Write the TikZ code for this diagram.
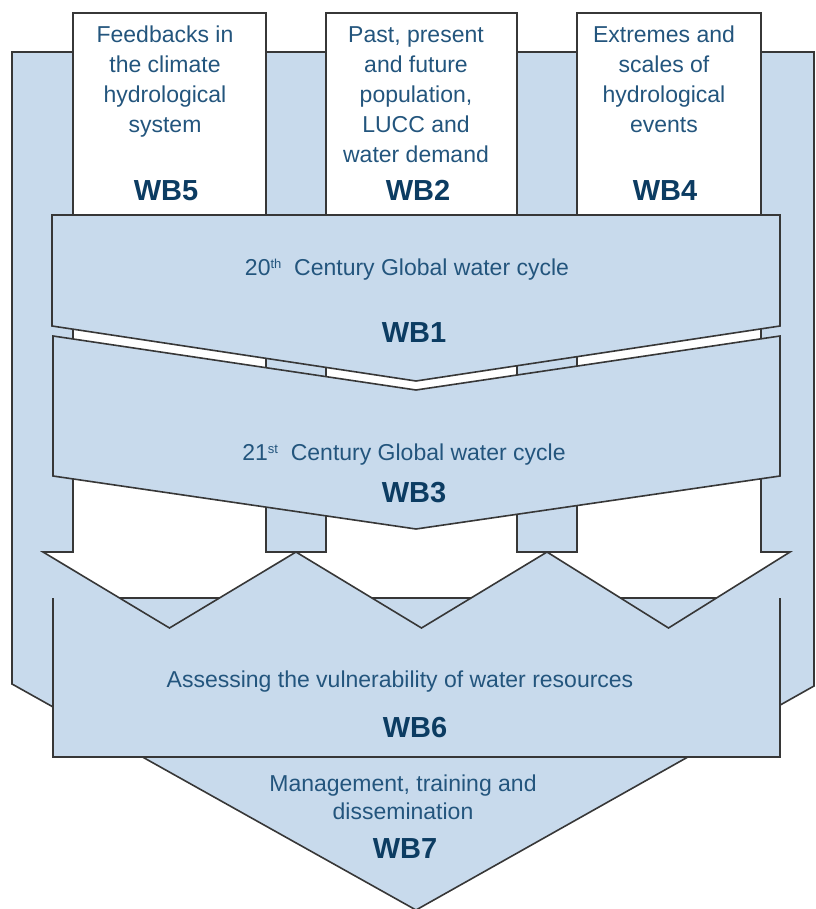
\documentclass[tikz,border=0pt]{standalone}
\usepackage{fontspec}
\setmainfont{Liberation Sans}
\definecolor{boxblue}{RGB}{200,218,236}
\definecolor{txtblue}{RGB}{35,85,125}
\definecolor{boldblue}{RGB}{12,60,98}
\definecolor{edgegray}{RGB}{55,55,55}
\begin{document}
\begin{tikzpicture}[x=1pt,y=-1pt,
  bluebox/.style={fill=boxblue, draw=edgegray, line width=1.6pt, line join=miter},
  whitearrow/.style={fill=white, draw=edgegray, line width=1.6pt, line join=miter},
  edgeline/.style={draw=edgegray, line width=1.6pt},
  bodytext/.style={text=txtblue, font=\fontsize{23}{30}\selectfont, align=center, inner sep=0pt},
  wblabel/.style={text=boldblue, font=\fontsize{29}{30}\selectfont\bfseries, inner sep=0pt, anchor=base}]
\useasboundingbox (0,0) rectangle (815,909);

% background (WB7)
\path[bluebox] (12,52) -- (814,52) -- (814,686) -- (416,910) -- (12,684) -- cycle;

% white arrows
\path[whitearrow] (73,552) -- (73,13) -- (266,13) -- (266,552) -- (296,552) -- (169.5,628) -- (43,552) -- cycle;
\path[whitearrow] (326,552) -- (326,13) -- (517,13) -- (517,552) -- (547,552) -- (421.5,628) -- (296,552) -- cycle;
\path[whitearrow] (577,552) -- (577,13) -- (761,13) -- (761,552) -- (790,552) -- (668.5,628) -- (547,552) -- cycle;

% WB1 and WB3
\path[bluebox] (52,215) -- (780,215) -- (780,326) -- (416,381) -- (52,326) -- cycle;
\path[bluebox] (53,336) -- (416,390) -- (780,336) -- (780,476) -- (416,529) -- (53,476) -- cycle;

% WB6
\fill[boxblue] (53,598) rectangle (780,757);
\draw[edgeline] (53,598) -- (53,757) -- (780,757) -- (780,598);
\begin{scope}
  \clip (0,0) -- (815,0) -- (815,552) -- (790,552) -- (668.5,628) -- (547,552) -- (421.5,628) -- (296,552) -- (169.5,628) -- (43,552) -- (0,552) -- cycle;
  \draw[edgeline] (53,598) -- (780,598);
\end{scope}
\begin{scope}
  \clip (53,598) rectangle (780,757);
  \draw[edgeline] (43,552) -- (169.5,628) -- (296,552) -- (421.5,628) -- (547,552) -- (668.5,628) -- (790,552);
\end{scope}

% texts of the top boxes
\node[bodytext] (t5) at (165,82) {Feedbacks in\\the climate\\hydrological\\system};
\node[wblabel] (wb5) at (166,201) {WB5};
\node[bodytext] (t2) at (416,94.7) {Past, present\\and future\\population,\\LUCC and\\water demand};
\node[wblabel] (wb2) at (418,201) {WB2};
\node[bodytext] (t4) at (664,79.6) {Extremes and\\scales of\\hydrological\\events};
\node[wblabel] (wb4) at (665,201) {WB4};

% WB1, WB3
\node[bodytext, anchor=base] (t1) at (407,275) {20\raisebox{7pt}{\fontsize{13}{13}\selectfont th}\ \ Century Global water cycle};
\node[wblabel] (wb1) at (414,342) {WB1};
\node[bodytext, anchor=base] (t3) at (404,460) {21\raisebox{7pt}{\fontsize{13}{13}\selectfont st}\ \ Century Global water cycle};
\node[wblabel] (wb3) at (414,502) {WB3};

% WB6
\node[bodytext, anchor=base] (t6) at (400,687) {Assessing the vulnerability of water resources};
\node[wblabel] (wb6) at (415,737) {WB6};

% WB7
\node[bodytext, font=\fontsize{23}{28}\selectfont] (t7) at (403,797) {Management, training and\\dissemination};
\node[wblabel] (wb7) at (405,858) {WB7};
\end{tikzpicture}
\end{document}
